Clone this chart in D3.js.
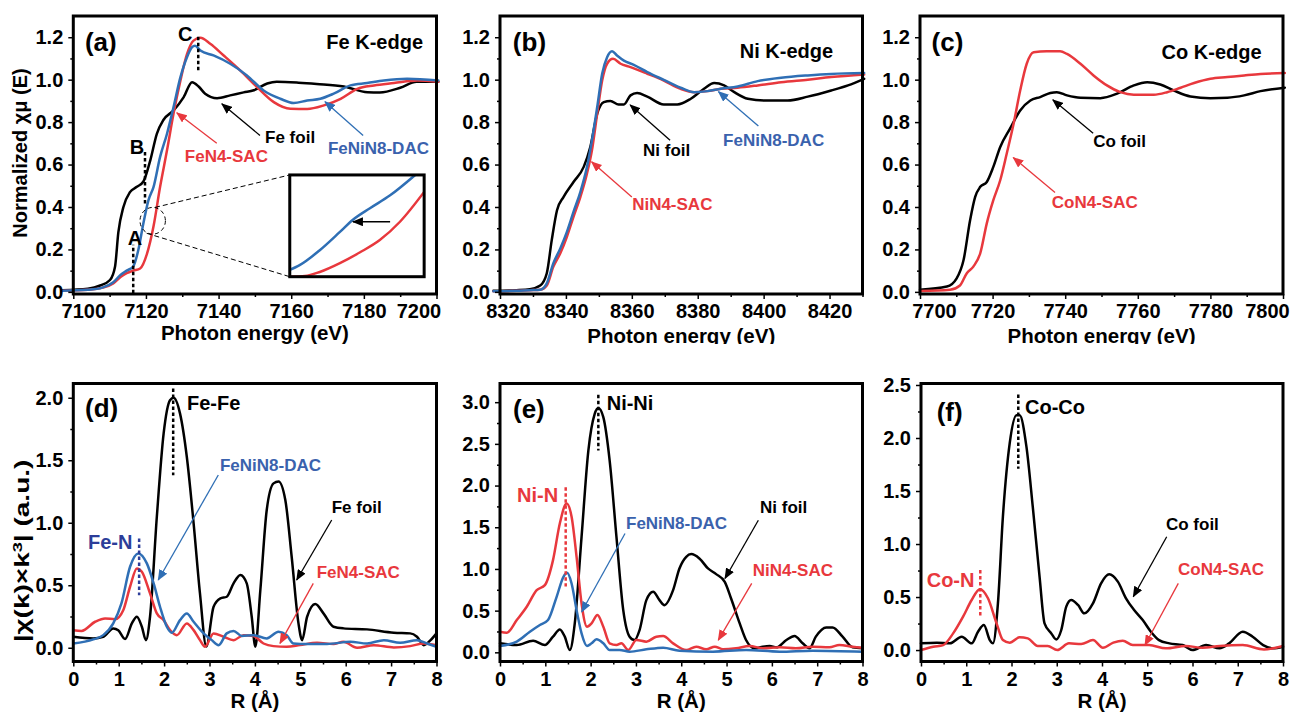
<!DOCTYPE html>
<html>
<head>
<meta charset="utf-8">
<script src="https://cdn.jsdelivr.net/npm/d3@7"></script>
<style>
  body { margin: 0; background: #fff; }
  svg text { font-family: "Liberation Sans", Arial, Helvetica, sans-serif; font-weight: bold; }
</style>
</head>
<body>
<div id="chart"></div>
<script>
// ---------- XANES, normalized absorption [energy (eV), mu] ----------
const feFoilXanes = [[7097,0.008],[7104,0.015],[7107.4,0.03],[7110.1,0.056],[7111.5,0.12],[7112.4,0.28],[7113.8,0.40],[7115.6,0.47],[7117.5,0.495],[7119.3,0.52],[7121.2,0.62],[7123,0.745],[7124.8,0.81],[7127.6,0.855],[7130.4,0.918],[7132.7,0.988],[7134.5,0.968],[7136.3,0.934],[7139.6,0.913],[7143.2,0.926],[7146.9,0.94],[7149.7,0.95],[7153.4,0.982],[7156,0.99],[7162,0.986],[7167,0.98],[7174.5,0.968],[7181,0.941],[7184.4,0.94],[7190,0.962],[7194.5,0.99],[7200.5,0.99]];
const feN4Xanes = [[7097,0.005],[7104,0.01],[7108,0.02],[7111,0.04],[7113,0.07],[7114.7,0.088],[7116.5,0.10],[7118.4,0.11],[7120.3,0.18],[7122.1,0.31],[7123.9,0.495],[7125.8,0.667],[7127.6,0.84],[7129.5,0.996],[7131.3,1.12],[7133.1,1.184],[7135,1.197],[7137.7,1.169],[7141.4,1.114],[7146,1.043],[7150.6,0.965],[7155.2,0.894],[7159.8,0.863],[7164.4,0.862],[7169,0.879],[7173.6,0.91],[7178.2,0.957],[7182.8,0.973],[7188.3,0.984],[7194.7,0.996],[7200.5,0.99]];
const feNiN8XanesFe = [[7097,0.005],[7104,0.01],[7108,0.02],[7111,0.045],[7113,0.08],[7114.7,0.1],[7116.5,0.12],[7117.9,0.197],[7119.3,0.323],[7120.7,0.432],[7122.1,0.495],[7123.9,0.636],[7125.8,0.745],[7127.6,0.871],[7129.5,1.012],[7131.3,1.106],[7132.7,1.153],[7133.5,1.16],[7135,1.137],[7138.6,1.114],[7143.2,1.075],[7147.8,1.02],[7152.4,0.949],[7157,0.91],[7160.7,0.89],[7164.4,0.902],[7168,0.91],[7171.7,0.934],[7176.3,0.973],[7180.9,0.984],[7185.5,0.996],[7191.9,1.004],[7200.5,0.996]];

const niFoilXanes = [[8318,0.005],[8325,0.008],[8329.1,0.013],[8332.2,0.03],[8334.2,0.088],[8335.7,0.244],[8337.3,0.385],[8339.3,0.448],[8342.3,0.518],[8345.4,0.589],[8347.4,0.683],[8349.5,0.84],[8351.5,0.894],[8353.5,0.9],[8356,0.883],[8357.6,0.883],[8359.6,0.926],[8361.6,0.937],[8364.7,0.92],[8369.7,0.883],[8373.8,0.883],[8377.9,0.91],[8381.9,0.957],[8385,0.984],[8388,0.973],[8391.1,0.941],[8395.2,0.91],[8400.2,0.902],[8407.3,0.902],[8413.4,0.92],[8420.5,0.949],[8425.6,0.973],[8430.5,1.004]];
const niN4Xanes = [[8318,0.003],[8325,0.005],[8329,0.008],[8332.2,0.01],[8334.2,0.03],[8336.2,0.119],[8338.3,0.182],[8340.3,0.26],[8342.3,0.354],[8344.4,0.448],[8346.4,0.558],[8347.9,0.667],[8349.5,0.84],[8351,0.996],[8352.5,1.075],[8354.3,1.098],[8356.6,1.075],[8359.6,1.059],[8364.7,1.028],[8369.7,0.996],[8374.8,0.957],[8378.9,0.941],[8383,0.946],[8387,0.957],[8392.1,0.962],[8398.2,0.973],[8405.3,0.988],[8413.4,1.0],[8420.5,1.012],[8430.5,1.024]];
const feNiN8XanesNi = [[8318,0.003],[8325,0.005],[8329,0.008],[8332.2,0.01],[8334.2,0.04],[8336.2,0.135],[8338.3,0.205],[8340.3,0.283],[8342.3,0.377],[8344.4,0.471],[8346.4,0.589],[8347.9,0.714],[8349.5,0.871],[8351,1.028],[8352.5,1.106],[8354,1.134],[8355.5,1.114],[8357.6,1.09],[8360.6,1.07],[8364.7,1.036],[8369.7,0.999],[8374.8,0.962],[8378.9,0.941],[8383,0.946],[8387,0.957],[8392.1,0.968],[8398.2,0.993],[8405.3,1.009],[8413.4,1.02],[8420.5,1.027],[8430.5,1.031]];

const coFoilXanes = [[7700,0.01],[7707.4,0.025],[7710.1,0.064],[7712,0.15],[7713.8,0.338],[7715.2,0.448],[7716.6,0.495],[7718.4,0.518],[7720.2,0.589],[7722.1,0.683],[7724.8,0.769],[7727.6,0.855],[7730.4,0.902],[7733.1,0.918],[7735.9,0.937],[7737.7,0.941],[7740.5,0.926],[7744.2,0.915],[7749.7,0.913],[7754.3,0.934],[7758.9,0.973],[7762.6,0.988],[7766.2,0.977],[7769.9,0.949],[7774.5,0.921],[7780,0.913],[7784.7,0.915],[7789.3,0.926],[7793.8,0.946],[7800.5,0.962]];
const coN4Xanes = [[7700,0.004],[7708.3,0.01],[7711,0.03],[7712.9,0.088],[7714.7,0.119],[7716.6,0.182],[7718.4,0.323],[7720.2,0.432],[7722.1,0.526],[7723.9,0.652],[7725.8,0.793],[7727.6,0.949],[7729.4,1.075],[7731.3,1.129],[7734.9,1.134],[7738.6,1.134],[7740.5,1.121],[7744.2,1.075],[7747.8,1.02],[7751.5,0.973],[7755.2,0.941],[7758.9,0.929],[7764.4,0.929],[7768.1,0.941],[7771.8,0.962],[7775.5,0.984],[7780,1.004],[7784.7,1.012],[7789.3,1.02],[7793.8,1.027],[7800.5,1.031]];

// magnified pre-edge region shown in the inset of the Fe K-edge panel
const insetFeNiN8 = [[7119,0.26],[7119.22,0.267],[7119.67,0.289],[7120.12,0.316],[7120.41,0.334],[7120.79,0.351],[7121.24,0.37],[7121.8,0.40]];
const insetFeN4 = [[7119,0.250],[7119.34,0.251],[7119.67,0.257],[7120.12,0.270],[7120.57,0.286],[7121.01,0.304],[7121.46,0.331],[7122,0.375]];

// ---------- FT-EXAFS magnitude [R (Å), |chi(k)*k^3|] ----------
const feFoilFt = [[0,0.088],[0.44,0.075],[0.66,0.088],[0.88,0.155],[0.99,0.14],[1.14,0.07],[1.29,0.195],[1.4,0.248],[1.51,0.168],[1.6,0.061],[1.69,0.248],[1.84,1.048],[1.99,1.715],[2.13,1.98],[2.21,2.0],[2.35,1.875],[2.5,1.528],[2.65,0.995],[2.79,0.435],[2.93,0.01],[3.09,0.328],[3.24,0.395],[3.38,0.408],[3.53,0.515],[3.68,0.582],[3.82,0.515],[3.93,0.248],[4.01,0.008],[4.12,0.462],[4.26,1.1],[4.41,1.315],[4.52,1.33],[4.67,1.182],[4.81,0.728],[4.96,0.195],[5.04,0.061],[5.15,0.248],[5.33,0.35],[5.51,0.275],[5.73,0.168],[5.95,0.155],[6.47,0.147],[7.06,0.12],[7.42,0.115],[7.57,0.088],[7.72,0.021],[7.87,0.061],[8.0,0.115]];
const feN4Ft = [[0,0.14],[0.18,0.135],[0.48,0.208],[0.7,0.235],[0.92,0.228],[1.1,0.30],[1.25,0.488],[1.4,0.635],[1.51,0.608],[1.69,0.435],[1.84,0.275],[1.99,0.221],[2.13,0.141],[2.28,0.101],[2.5,0.195],[2.65,0.141],[2.79,0.061],[2.9,0.008],[3.09,0.115],[3.31,0.088],[3.53,0.061],[3.75,0.101],[3.97,0.094],[4.19,0.034],[4.41,0.013],[4.7,0.008],[4.99,0.021],[5.37,0.04],[5.73,0.03],[5.95,0.048],[6.25,0.0],[6.62,0.021],[7.06,0.003],[7.42,0.013],[7.72,0.034],[8.0,0.021]];
const feNiN8FtFe = [[0,0.034],[0.44,0.067],[0.66,0.101],[0.88,0.195],[1.06,0.355],[1.25,0.648],[1.43,0.755],[1.62,0.675],[1.77,0.515],[1.91,0.328],[2.06,0.168],[2.17,0.12],[2.35,0.221],[2.5,0.275],[2.65,0.208],[2.87,0.115],[3.05,0.061],[3.2,0.021],[3.38,0.115],[3.53,0.135],[3.71,0.094],[3.97,0.101],[4.26,0.075],[4.52,0.128],[4.7,0.101],[4.85,0.034],[5.15,0.03],[5.59,0.03],[6.1,0.048],[6.47,0.034],[6.84,0.061],[7.2,0.04],[7.57,0.061],[7.79,0.034],[8.0,0.008]];

const niFoilFt = [[0,0.108],[0.37,0.088],[0.73,0.14],[0.99,0.088],[1.17,0.188],[1.32,0.275],[1.43,0.188],[1.54,0.028],[1.65,0.347],[1.8,1.385],[1.95,2.42],[2.09,2.86],[2.17,2.93],[2.28,2.82],[2.42,2.3],[2.57,1.385],[2.72,0.506],[2.86,0.188],[2.97,0.148],[3.08,0.267],[3.23,0.626],[3.38,0.726],[3.52,0.626],[3.63,0.566],[3.82,0.746],[3.96,1.006],[4.11,1.146],[4.22,1.178],[4.4,1.126],[4.59,1.006],[4.77,0.938],[4.96,0.846],[5.1,0.646],[5.29,0.347],[5.43,0.148],[5.62,0.048],[5.8,0.068],[5.95,0.076],[6.1,0.06],[6.32,0.148],[6.5,0.196],[6.68,0.108],[6.83,0.048],[6.97,0.188],[7.2,0.299],[7.34,0.299],[7.56,0.188],[7.78,0.06],[8.0,0.048]];
const niN4Ft = [[0,0.247],[0.15,0.235],[0.37,0.387],[0.59,0.547],[0.81,0.746],[0.99,0.806],[1.17,1.106],[1.32,1.545],[1.47,1.785],[1.58,1.625],[1.69,1.146],[1.8,0.586],[1.92,0.307],[2.02,0.347],[2.15,0.447],[2.28,0.307],[2.42,0.108],[2.57,0.088],[2.68,0.108],[2.83,0.028],[3.01,0.148],[3.23,0.128],[3.45,0.188],[3.6,0.196],[3.82,0.108],[4.11,0.028],[4.33,0.068],[4.55,0.036],[4.74,0.068],[4.92,0.036],[5.21,0.048],[5.51,0.076],[5.8,0.048],[6.17,0.06],[6.53,0.048],[6.9,0.068],[7.27,0.06],[7.49,0.088],[7.78,0.068],[8.0,0.056]];
const feNiN8FtNi = [[0,0.076],[0.37,0.128],[0.66,0.247],[0.88,0.327],[1.06,0.387],[1.25,0.666],[1.4,0.906],[1.48,0.954],[1.58,0.826],[1.69,0.506],[1.8,0.227],[1.92,0.076],[2.02,0.108],[2.13,0.156],[2.28,0.108],[2.42,0.028],[2.64,0.028],[2.86,0.008],[3.23,0.036],[3.6,0.056],[3.96,0.02],[4.7,0.008],[5.43,0.028],[6.17,0.008],[6.9,0.02],[8.0,0.008]];

const coFoilFt = [[0,0.063],[0.35,0.069],[0.64,0.063],[0.9,0.126],[1.12,0.063],[1.26,0.173],[1.39,0.236],[1.52,0.094],[1.59,0.063],[1.7,0.44],[1.81,1.258],[1.96,1.95],[2.11,2.215],[2.18,2.215],[2.33,1.918],[2.47,1.352],[2.62,0.692],[2.73,0.252],[2.88,0.157],[2.99,0.1],[3.1,0.189],[3.21,0.409],[3.32,0.472],[3.47,0.425],[3.61,0.346],[3.8,0.44],[3.98,0.629],[4.16,0.714],[4.35,0.645],[4.53,0.488],[4.71,0.377],[4.9,0.283],[5.08,0.173],[5.26,0.094],[5.49,0.063],[5.78,0.047],[6.0,0.0],[6.3,0.047],[6.6,0.016],[6.81,0.063],[7.11,0.173],[7.33,0.126],[7.56,0.047],[7.78,0.016],[8.0,0.031]];
const coN4Ft = [[0,0.0],[0.27,0.031],[0.49,0.047],[0.71,0.157],[0.93,0.315],[1.12,0.472],[1.3,0.573],[1.48,0.488],[1.67,0.252],[1.81,0.094],[1.96,0.069],[2.18,0.12],[2.36,0.11],[2.58,0.038],[2.8,0.038],[3.01,0.0],[3.27,0.063],[3.54,0.057],[3.8,0.094],[4.02,0.022],[4.25,0.07],[4.46,0.088],[4.68,0.047],[5.04,0.047],[5.41,0.016],[5.85,0.038],[6.22,0.022],[6.6,0.038],[7.11,0.047],[7.58,0.006],[8.0,0.038]];

// ---------- axis ticks ----------
const xanesYTicks = [0, 0.2, 0.4, 0.6, 0.8, 1.0, 1.2];
const xanesYMinor = [0.1, 0.3, 0.5, 0.7, 0.9, 1.1];
const feXTicks = [7100, 7120, 7140, 7160, 7180, 7200];
const feXMinor = [7110, 7130, 7150, 7170, 7190];
const niXTicks = [8320, 8340, 8360, 8380, 8400, 8420];
const niXMinor = [8330, 8350, 8370, 8390, 8410, 8430];
const coXTicks = [7700, 7720, 7740, 7760, 7780, 7800];
const coXMinor = [7710, 7730, 7750, 7770, 7790];
const rTicks = [0, 1, 2, 3, 4, 5, 6, 7, 8];
const rMinor = [0.5, 1.5, 2.5, 3.5, 4.5, 5.5, 6.5, 7.5];
const feFtYTicks = [0, 0.5, 1.0, 1.5, 2.0];
const feFtYMinor = [0.25, 0.75, 1.25, 1.75];
const niFtYTicks = [0, 0.5, 1.0, 1.5, 2.0, 2.5, 3.0];
const niFtYMinor = [0.25, 0.75, 1.25, 1.75, 2.25, 2.75];
const coFtYTicks = [0, 0.5, 1.0, 1.5, 2.0, 2.5];
const coFtYMinor = [0.25, 0.75, 1.25, 1.75, 2.25];

// ---------- styling ----------
const BLACK = "#000000";
const RED = "#e8383d";
const BLUE = "#2f6fb5";
const BLUE_TXT = "#3a62ad";
const NAVY = "#2c3d99";
const LW = 2.5;
const TICK_FONT = "20px";

const svg = d3.select("#chart").append("svg")
  .attr("width", 1295).attr("height", 712)
  .style("background", "#fff");
const defs = svg.append("defs");

function addMarker(id, color) {
  defs.append("marker")
    .attr("id", id)
    .attr("viewBox", "0 0 11 9")
    .attr("refX", 10).attr("refY", 4.5)
    .attr("markerWidth", 11).attr("markerHeight", 9)
    .attr("markerUnits", "userSpaceOnUse")
    .attr("orient", "auto")
    .append("path").attr("d", "M0,0L11,4.5L0,9Z").attr("fill", color);
}
addMarker("head-black", BLACK);
addMarker("head-red", RED);
addMarker("head-blue", BLUE);

defs.append("clipPath").attr("id", "title-clip")
  .append("rect").attr("x", 0).attr("y", 0).attr("width", 1295).attr("height", 344);

function styleAxis(sel) {
  sel.select(".domain").remove();
  sel.selectAll(".tick line").attr("stroke", BLACK).attr("stroke-width", 1.5);
  sel.selectAll(".tick text")
    .attr("fill", BLACK)
    .attr("font-size", TICK_FONT)
    .attr("font-weight", "bold")
    .attr("font-family", "Liberation Sans, Arial, sans-serif");
}

function makePanel(p) {
  const x = d3.scaleLinear().domain(p.xDomain).range([p.left, p.right]);
  const y = d3.scaleLinear().domain(p.yDomain).range([p.bottom, p.top]);
  const g = svg.append("g");
  const lines = g.append("g");
  const over = g.append("g");

  const xMin = g.append("g").attr("transform", `translate(0,${p.bottom})`)
    .call(d3.axisBottom(x).tickValues(p.xMinor).tickSize(3).tickFormat(""));
  styleAxis(xMin);
  const xMaj = g.append("g").attr("transform", `translate(0,${p.bottom})`)
    .call(d3.axisBottom(x).tickValues(p.xTicks).tickSize(5).tickPadding(5).tickFormat(d3.format("d")));
  styleAxis(xMaj);
  if (p.xShift) {
    xMaj.selectAll(".tick text").attr("dx", d => (p.xShift[d] || 0));
  }
  const yMin = g.append("g").attr("transform", `translate(${p.left},0)`)
    .call(d3.axisLeft(y).tickValues(p.yMinor).tickSize(3).tickFormat(""));
  styleAxis(yMin);
  const yMaj = g.append("g").attr("transform", `translate(${p.left},0)`)
    .call(d3.axisLeft(y).tickValues(p.yTicks).tickSize(5).tickPadding(5).tickFormat(d3.format(".1f")));
  styleAxis(yMaj);

  g.append("rect")
    .attr("x", p.left).attr("y", p.top)
    .attr("width", p.right - p.left).attr("height", p.bottom - p.top)
    .attr("fill", "none").attr("stroke", BLACK).attr("stroke-width", 3);

  return { g, lines, over, x, y, p };
}

function series(P, data, color) {
  const gen = d3.line().x(d => P.x(d[0])).y(d => P.y(d[1])).curve(d3.curveMonotoneX);
  P.lines.append("path").datum(data)
    .attr("d", gen).attr("fill", "none")
    .attr("stroke", color).attr("stroke-width", LW)
    .attr("stroke-linejoin", "round").attr("stroke-linecap", "round");
}

function label(P, txt, xv, yv, color, size, anchor) {
  return P.over.append("text")
    .attr("x", P.x(xv)).attr("y", P.y(yv)).attr("dy", "0.36em")
    .attr("text-anchor", anchor || "start")
    .attr("fill", color).attr("font-size", size).attr("font-weight", "bold")
    .text(txt);
}

function arrow(P, x1, y1, x2, y2, color, head) {
  P.over.append("line")
    .attr("x1", P.x(x1)).attr("y1", P.y(y1))
    .attr("x2", P.x(x2)).attr("y2", P.y(y2))
    .attr("stroke", color).attr("stroke-width", 1.3)
    .attr("marker-end", `url(#${head})`);
}

function dotted(P, xv, y1, y2, color) {
  P.over.append("line")
    .attr("x1", P.x(xv)).attr("x2", P.x(xv))
    .attr("y1", P.y(y1)).attr("y2", P.y(y2))
    .attr("stroke", color).attr("stroke-width", 2.5)
    .attr("stroke-dasharray", "3.5,2.5");
}

function xTitle(P, txt, baseline, clipped) {
  const t = svg.append("text")
    .attr("x", (P.p.left + P.p.right) / 2).attr("y", baseline)
    .attr("text-anchor", "middle").attr("font-size", "20.5px")
    .attr("font-weight", "bold").attr("fill", BLACK).text(txt);
  if (clipped) t.attr("clip-path", "url(#title-clip)");
}

// ================= (a) Fe K-edge =================
const A = makePanel({
  left: 73.3, right: 436.5, top: 16, bottom: 294,
  xDomain: [7100, 7200], yDomain: [-0.01, 1.3],
  xTicks: feXTicks, xMinor: feXMinor, yTicks: xanesYTicks, yMinor: xanesYMinor,
  xShift: { 7100: 10, 7200: -18 }
});
series(A, feFoilXanes, BLACK);
series(A, feN4Xanes, RED);
series(A, feNiN8XanesFe, BLUE);
label(A, "(a)", 7103.2, 1.178, BLACK, "26px");
label(A, "Fe K-edge", 7196.3, 1.178, BLACK, "20px", "end");
dotted(A, 7116.5, -0.007, 0.222, BLACK);
dotted(A, 7119.74, 0.417, 0.661, BLACK);
dotted(A, 7134.4, 1.044, 1.209, BLACK);
label(A, "A", 7117, 0.253, BLACK, "20px", "middle");
label(A, "B", 7117.5, 0.684, BLACK, "20px", "middle");
label(A, "C", 7130.8, 1.217, BLACK, "20px", "middle");
label(A, "Fe foil", 7152.8, 0.73, BLACK, "17px");
label(A, "FeN4-SAC", 7130.7, 0.64, RED, "17px");
label(A, "FeNiN8-DAC", 7170.1, 0.678, BLUE_TXT, "17px");
arrow(A, 7151.4, 0.737, 7140.9, 0.886, BLACK, "head-black");
arrow(A, 7139.5, 0.700, 7128.5, 0.844, RED, "head-red");
arrow(A, 7179.8, 0.737, 7169.3, 0.896, BLUE, "head-blue");

// dashed ellipse around the pre-edge region and its magnified inset
const inset = { e0: 7159.6, e1: 7196.6, v0: 0.0715, v1: 0.551 };
A.over.append("ellipse")
  .attr("cx", A.x(7121.86)).attr("cy", A.y(0.335))
  .attr("rx", A.x(7121.86) - A.x(7118.36)).attr("ry", A.y(0.272) - A.y(0.335))
  .attr("fill", "none").attr("stroke", BLACK).attr("stroke-width", 1)
  .attr("stroke-dasharray", "4,3");
A.over.append("line")
  .attr("x1", A.x(7122.5)).attr("y1", A.y(0.398))
  .attr("x2", A.x(inset.e0)).attr("y2", A.y(inset.v1))
  .attr("stroke", BLACK).attr("stroke-width", 1).attr("stroke-dasharray", "5,3");
A.over.append("line")
  .attr("x1", A.x(7120.2)).attr("y1", A.y(0.276))
  .attr("x2", A.x(inset.e0)).attr("y2", A.y(inset.v0))
  .attr("stroke", BLACK).attr("stroke-width", 1).attr("stroke-dasharray", "5,3");

const ix = d3.scaleLinear().domain([7119, 7122]).range([A.x(inset.e0), A.x(inset.e1)]);
const iy = d3.scaleLinear().domain([0.25, 0.40]).range([A.y(inset.v0), A.y(inset.v1)]);
defs.append("clipPath").attr("id", "inset-clip").append("rect")
  .attr("x", A.x(inset.e0)).attr("y", A.y(inset.v1))
  .attr("width", A.x(inset.e1) - A.x(inset.e0)).attr("height", A.y(inset.v0) - A.y(inset.v1));
const ig = A.over.append("g");
ig.append("rect")
  .attr("x", A.x(inset.e0)).attr("y", A.y(inset.v1))
  .attr("width", A.x(inset.e1) - A.x(inset.e0)).attr("height", A.y(inset.v0) - A.y(inset.v1))
  .attr("fill", "#fff");
const igl = ig.append("g").attr("clip-path", "url(#inset-clip)");
const iline = d3.line().x(d => ix(d[0])).y(d => iy(d[1])).curve(d3.curveMonotoneX);
igl.append("path").datum(insetFeN4).attr("d", iline).attr("fill", "none").attr("stroke", RED).attr("stroke-width", LW);
igl.append("path").datum(insetFeNiN8).attr("d", iline).attr("fill", "none").attr("stroke", BLUE).attr("stroke-width", LW);
ig.append("line")
  .attr("x1", ix(7121.24)).attr("y1", iy(0.331))
  .attr("x2", ix(7120.41)).attr("y2", iy(0.331))
  .attr("stroke", BLACK).attr("stroke-width", 1.3).attr("marker-end", "url(#head-black)");
ig.append("rect")
  .attr("x", A.x(inset.e0)).attr("y", A.y(inset.v1))
  .attr("width", A.x(inset.e1) - A.x(inset.e0)).attr("height", A.y(inset.v0) - A.y(inset.v1))
  .attr("fill", "none").attr("stroke", BLACK).attr("stroke-width", 3);

xTitle(A, "Photon energy (eV)", 339.5, false);
svg.append("text")
  .attr("transform", "translate(20,153) rotate(-90)")
  .attr("text-anchor", "middle").attr("dy", "0.36em")
  .attr("font-size", "20px").attr("font-weight", "bold").attr("fill", BLACK)
  .text("Normalized χμ (E)");

// ================= (b) Ni K-edge =================
const B = makePanel({
  left: 500, right: 862.5, top: 16, bottom: 294,
  xDomain: [8320, 8430], yDomain: [-0.01, 1.3],
  xTicks: niXTicks, xMinor: niXMinor, yTicks: xanesYTicks, yMinor: xanesYMinor,
  xShift: { 8320: 8 }
});
series(B, niFoilXanes, BLACK);
series(B, niN4Xanes, RED);
series(B, feNiN8XanesNi, BLUE);
label(B, "(b)", 8323.9, 1.178, BLACK, "26px");
label(B, "Ni K-edge", 8421.1, 1.135, BLACK, "20px", "end");
label(B, "Ni foil", 8363.4, 0.669, BLACK, "17px");
label(B, "NiN4-SAC", 8360.1, 0.414, RED, "17px");
label(B, "FeNiN8-DAC", 8387.7, 0.716, BLUE_TXT, "17px");
arrow(B, 8371.6, 0.714, 8359.5, 0.881, BLACK, "head-black");
arrow(B, 8360.0, 0.447, 8347.8, 0.613, RED, "head-red");
arrow(B, 8398.4, 0.782, 8386.3, 0.943, BLUE, "head-blue");
xTitle(B, "Photon energy (eV)", 343, true);

// ================= (c) Co K-edge =================
const C = makePanel({
  left: 920, right: 1283, top: 16, bottom: 294,
  xDomain: [7700, 7800], yDomain: [-0.01, 1.3],
  xTicks: coXTicks, xMinor: coXMinor, yTicks: xanesYTicks, yMinor: xanesYMinor,
  xShift: { 7700: 14, 7800: -16 }
});
series(C, coFoilXanes, BLACK);
series(C, coN4Xanes, RED);
label(C, "(c)", 7703.2, 1.178, BLACK, "26px");
label(C, "Co K-edge", 7794.1, 1.13, BLACK, "20px", "end");
label(C, "Co foil", 7747.7, 0.712, BLACK, "17px");
label(C, "CoN4-SAC", 7736.3, 0.425, RED, "17px");
arrow(C, 7747.7, 0.747, 7736.6, 0.905, BLACK, "head-black");
arrow(C, 7737.2, 0.468, 7725.7, 0.633, RED, "head-red");
xTitle(C, "Photon energy (eV)", 343, true);

// ================= (d) Fe FT-EXAFS =================
const D = makePanel({
  left: 73.3, right: 436.5, top: 383.5, bottom: 661.5,
  xDomain: [0, 8], yDomain: [-0.110, 2.114],
  xTicks: rTicks, xMinor: rMinor, yTicks: feFtYTicks, yMinor: feFtYMinor
});
series(D, feFoilFt, BLACK);
series(D, feN4Ft, RED);
series(D, feNiN8FtFe, BLUE);
label(D, "(d)", 0.258, 1.918, BLACK, "26px");
dotted(D, 2.2, 2.075, 1.38, BLACK);
label(D, "Fe-Fe", 2.504, 1.958, BLACK, "20px");
dotted(D, 1.45, 0.875, 0.42, NAVY);
label(D, "Fe-N", 0.324, 0.848, NAVY, "20px");
label(D, "FeNiN8-DAC", 3.231, 1.462, BLUE_TXT, "17px");
arrow(D, 3.194, 1.382, 1.872, 0.542, BLUE, "head-blue");
label(D, "Fe foil", 5.692, 1.126, BLACK, "17px");
arrow(D, 5.692, 1.022, 4.921, 0.542, BLACK, "head-black");
label(D, "FeN4-SAC", 5.361, 0.608, RED, "17px");
arrow(D, 5.286, 0.515, 4.553, 0.035, RED, "head-red");
xTitle(D, "R (Å)", 708, false);
const yt = svg.append("text")
  .attr("transform", "translate(21.5,551) rotate(-90) scale(1.4,1)")
  .attr("text-anchor", "middle").attr("dy", "0.36em")
  .attr("font-size", "20px").attr("font-weight", "bold").attr("fill", BLACK);
yt.append("tspan").text("|χ(k)×k");
yt.append("tspan").attr("dy", -7).attr("font-size", "13px").text("3");
yt.append("tspan").attr("dy", 7).text("| (a.u.)");

// ================= (e) Ni FT-EXAFS =================
const E = makePanel({
  left: 500, right: 862.5, top: 383.5, bottom: 661.5,
  xDomain: [0, 8], yDomain: [-0.110, 3.224],
  xTicks: rTicks, xMinor: rMinor, yTicks: niFtYTicks, yMinor: niFtYMinor
});
series(E, niFoilFt, BLACK);
series(E, niN4Ft, RED);
series(E, feNiN8FtNi, BLUE);
label(E, "(e)", 0.287, 2.925, BLACK, "26px");
dotted(E, 2.17, 3.09, 2.42, BLACK);
label(E, "Ni-Ni", 2.355, 2.988, BLACK, "20px");
dotted(E, 1.45, 1.98, 0.79, RED);
label(E, "Ni-N", 0.375, 1.895, RED, "20px");
label(E, "FeNiN8-DAC", 2.781, 1.552, BLUE_TXT, "17px");
arrow(E, 2.759, 1.425, 1.803, 0.486, BLUE, "head-blue");
label(E, "Ni foil", 5.738, 1.743, BLACK, "17px");
arrow(E, 5.701, 1.584, 4.966, 0.886, BLACK, "head-black");
label(E, "NiN4-SAC", 5.577, 0.985, RED, "17px");
arrow(E, 5.555, 0.826, 4.818, 0.147, RED, "head-red");
xTitle(E, "R (Å)", 708, false);

// ================= (f) Co FT-EXAFS =================
const F = makePanel({
  left: 921, right: 1283, top: 383.5, bottom: 661.5,
  xDomain: [0, 8], yDomain: [-0.108, 2.514],
  xTicks: rTicks, xMinor: rMinor, yTicks: coFtYTicks, yMinor: coFtYMinor
});
series(F, coFoilFt, BLACK);
series(F, coN4Ft, RED);
label(F, "(f)", 0.347, 2.248, BLACK, "26px");
dotted(F, 2.15, 2.41, 1.71, BLACK);
label(F, "Co-Co", 2.298, 2.29, BLACK, "20px");
dotted(F, 1.31, 0.755, 0.314, RED);
label(F, "Co-N", 0.126, 0.66, RED, "20px");
label(F, "Co foil", 5.414, 1.189, BLACK, "17px");
arrow(F, 5.43, 1.069, 4.692, 0.503, BLACK, "head-black");
label(F, "CoN4-SAC", 5.68, 0.761, RED, "17px");
arrow(F, 5.686, 0.629, 4.95, 0.047, RED, "head-red");
xTitle(F, "R (Å)", 708, false);
</script>
</body>
</html>
